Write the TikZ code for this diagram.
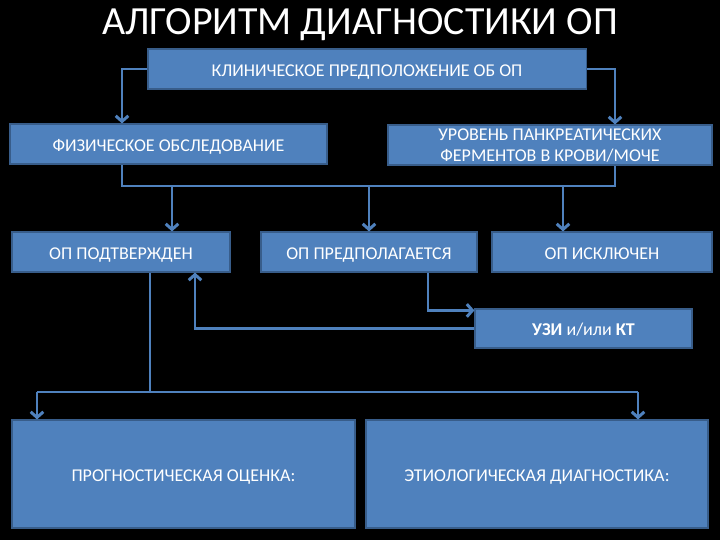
\documentclass[tikz,border=0pt]{standalone}
\usepackage{fontspec}
\setmainfont{Carlito}
\usetikzlibrary{arrows.meta}
\definecolor{box-blue}{HTML}{4F81BD}
\definecolor{box-edge}{HTML}{385D8A}

\begin{document}
\begin{tikzpicture}[
    x=0.025cm, y=-0.025cm,
    font=\fontsize{12.8}{15}\selectfont,
    box/.style={draw=box-edge, fill=box-blue, line width=0.8pt, text=white, inner sep=0pt},
    oneline/.style={box, text height=2.1ex, text depth=0pt},
    link/.style={draw=box-blue, line width=2.1pt, -{Straight Barb[length=4pt, width=9pt]}},
    wire/.style={draw=box-blue, line width=2.1pt}
]
\fill[black] (0,0) rectangle (720,540);
\useasboundingbox (0,0) rectangle (720,540);

\node[text=white, font=\fontsize{28.4}{32}\selectfont] (title) at (360,25) {АЛГОРИТМ ДИАГНОСТИКИ ОП};

\node[oneline, minimum width=10.95cm, minimum height=1cm] (clin) at (367,69) {КЛИНИЧЕСКОЕ ПРЕДПОЛОЖЕНИЕ ОБ ОП};
\node[oneline, minimum width=7.925cm, minimum height=1cm] (phys) at (168.5,144) {ФИЗИЧЕСКОЕ ОБСЛЕДОВАНИЕ};
\node[box, align=center, text depth=0pt, minimum width=8.1cm, minimum height=1cm] (enz) at (550,145) {УРОВЕНЬ ПАНКРЕАТИЧЕСКИХ\\ФЕРМЕНТОВ В КРОВИ/МОЧЕ};

\node[oneline, minimum width=5.45cm, minimum height=1cm] (conf) at (121,252) {ОП ПОДТВЕРЖДЕН};
\node[oneline, minimum width=5.4cm, minimum height=1cm] (susp) at (369,252) {ОП ПРЕДПОЛАГАЕТСЯ};
\node[oneline, minimum width=5.5cm, minimum height=1cm] (excl) at (602,252) {ОП ИСКЛЮЧЕН};

\node[oneline, minimum width=5.425cm, minimum height=0.975cm] (uzi) at (583.5,328.5) {\textbf{УЗИ} и/или \textbf{КТ}};

\node[oneline, minimum width=8.575cm, minimum height=2.7cm] (prog) at (183.5,474) {ПРОГНОСТИЧЕСКАЯ ОЦЕНКА:};
\node[oneline, minimum width=8.55cm, minimum height=2.7cm] (etio) at (537,474) {ЭТИОЛОГИЧЕСКАЯ ДИАГНОСТИКА:};

% connector positions
\coordinate (xa) at (122,0);
\coordinate (xb) at (615,0);
\coordinate (xc) at (172,0);
\coordinate (xd) at (563,0);
\coordinate (xe) at (428,0);
\coordinate (xf) at (195,0);
\coordinate (xg) at (150,0);
\coordinate (xh) at (37,0);
\coordinate (xi) at (638,0);
\coordinate (bus1) at (0,186);
\coordinate (bus2) at (0,392);

\draw[link] (clin.west) -| (phys.north -| xa);
\draw[link] (clin.east) -| (enz.north -| xb);

\draw[wire] (phys.south -| xa) -- (bus1 -| xa) -- (bus1 -| xb) -- (enz.south -| xb);
\draw[link] (bus1 -| xc) -- (conf.north -| xc);
\draw[link] (bus1 -| susp) -- (susp.north);
\draw[link] (bus1 -| xd) -- (excl.north -| xd);

\draw[link] (susp.south -| xe) |- ([yshift=-0.05cm]uzi.north west);
\draw[link] (uzi.west) -| (conf.south -| xf);

\draw[wire] (conf.south -| xg) -- (bus2 -| xg);
\draw[wire] (bus2 -| xh) -- (bus2 -| xi);
\draw[link] (bus2 -| xh) -- (prog.north -| xh);
\draw[link] (bus2 -| xi) -- (etio.north -| xi);
\end{tikzpicture}
\end{document}
